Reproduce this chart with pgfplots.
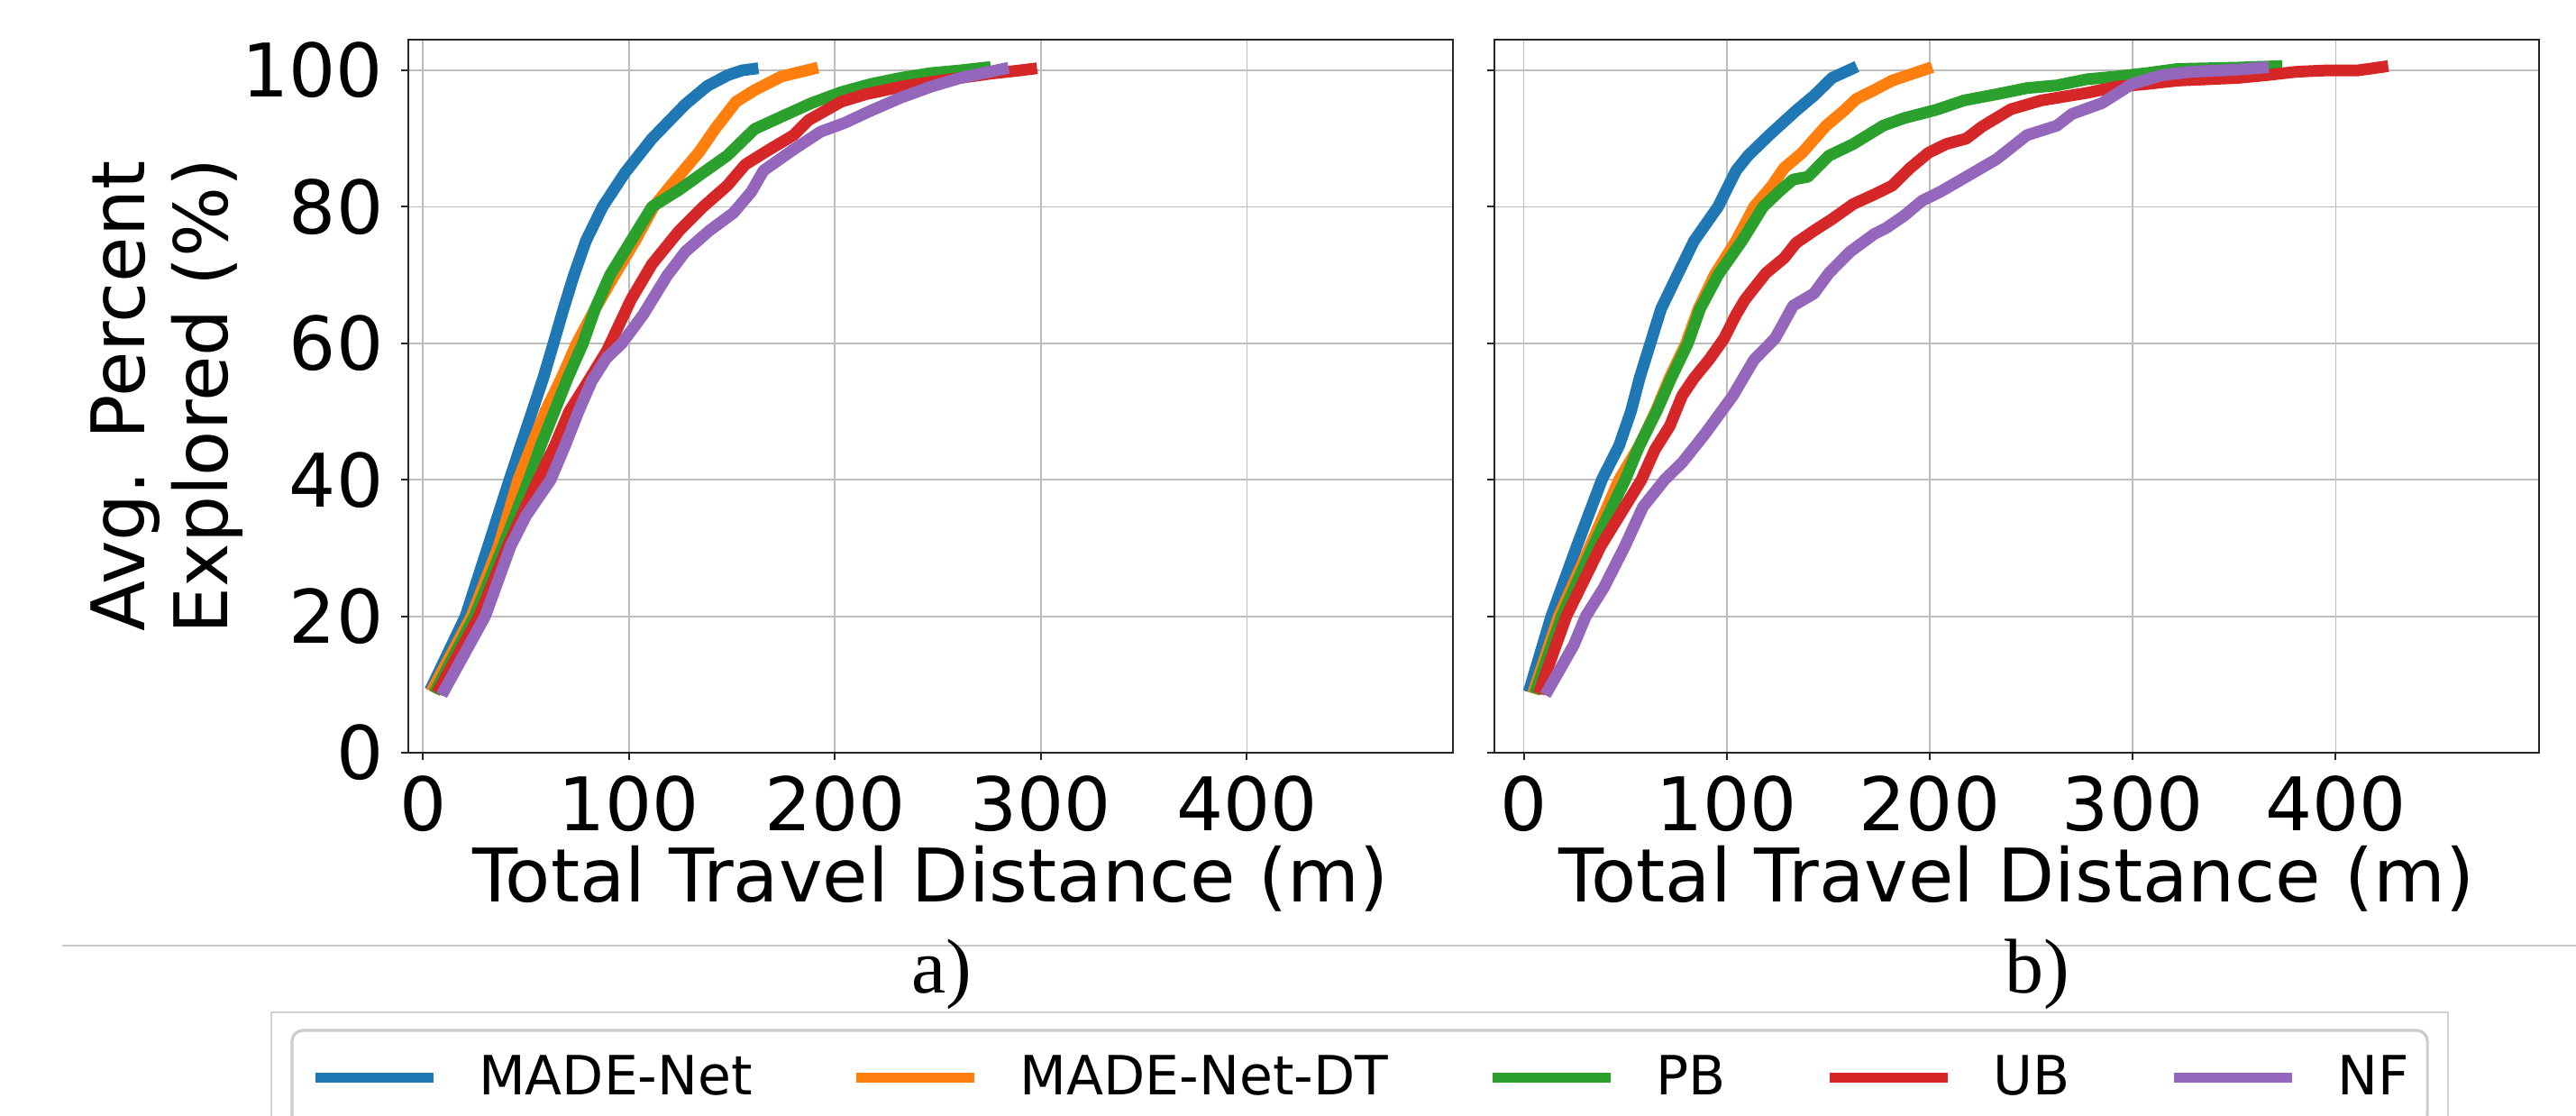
\documentclass[border=0pt]{standalone}
\usepackage{fontspec}
\setmainfont{DejaVu Sans}
\newfontfamily\capfont{Liberation Serif}
\usepackage{pgfplots}
\pgfplotsset{compat=1.18}

\definecolor{tabblue}{HTML}{1F77B4}
\definecolor{taborange}{HTML}{FF7F0E}
\definecolor{tabgreen}{HTML}{2CA02C}
\definecolor{tabred}{HTML}{D62728}
\definecolor{tabpurple}{HTML}{9467BD}

% shared look of both panels
\pgfplotsset{
  panel/.style={
    scale only axis, width=289.75pt, height=197.75pt,
    ymin=0, ymax=104.5, xmax=500,
    xtick={0,100,200,300,400}, ytick={0,20,40,60,80,100},
    grid=major, major grid style={line width=0.45pt, black!26},
    axis line style={line width=0.5pt, black!85},
    tick pos=left, tick align=outside, major tick length=2pt,
    tick style={line width=0.5pt, black!85},
    tick label style={font=\fontsize{20.5}{24}\selectfont, inner sep=0pt},
    xticklabel style={anchor=base, yshift=-19.75pt},
    yticklabel style={anchor=east, xshift=-4.75pt},
    /pgf/number format/assume math mode=true,
    every axis plot/.append style={line width=3.25pt, line join=round, line cap=rect},
    label style={font=\fontsize{20.5}{22.9}\selectfont, inner sep=0pt},
    xlabel={Total Travel Distance (m)},
    xlabel style={at={(axis description cs:0.5,-0.2093)}, anchor=base},
  }
}

\begin{document}
\begin{tikzpicture}

% ---- a) ----
\begin{axis}[panel,
  at={(113.25pt,-11pt)}, anchor=north west,
  xmin=-7.1,
  ylabel={Avg. Percent\\Explored (\%)},
  ylabel style={at={(axis description cs:-0.1576,0.5)}, anchor=south, align=center},
  legend columns=5, legend cell align=left,
  legend style={at={(axis description cs:-0.1113,-0.3894)}, anchor=north west,
    draw=black!20, line width=0.8pt, rounded corners=3pt, fill=white,
    inner xsep=5pt, inner ysep=7pt, outer sep=0pt,
    font=\fontsize{15}{18}\selectfont, nodes={inner sep=0pt},
    /tikz/every odd column/.append style={column sep=11.25pt},
    /tikz/every even column/.append style={column sep=27.5pt}},
  legend image code/.code={\draw[#1, line width=2.75pt, line cap=butt] (0pt,0pt) -- (32.75pt,0pt);},
]
\addplot[tabblue] coordinates {(4.7,9.9) (20.7,20) (31.7,30.3) (42,40) (47.5,45) (53,50) (58.5,55) (63.4,60) (68.2,65) (73.3,70) (79.1,75) (87.2,80) (98.1,85) (111.2,90) (127.3,95) (138,97.7) (148,99.3) (155,100) (160,100.2)};
\addplot[taborange] coordinates {(5.4,9.7) (23.6,20) (36.8,30.3) (46.3,40) (52.8,45) (59.4,50) (67.4,55) (74.7,60) (83.5,65) (93,70) (103,75) (112,80) (120,83) (127,85.5) (134,88) (142,91.5) (152,95.4) (161,97.1) (174,99.1) (189,100.2)};
\addplot[tabgreen] coordinates {(6.9,9.5) (25.1,20) (39,30.3) (51.4,40) (57.2,45) (63.8,50) (70.4,55) (77.7,60) (83.5,65) (90.8,70) (101,75) (111.2,80) (124.4,82.5) (136,85) (147.7,87.5) (161,91.4) (174,93.2) (188.6,95.2) (203,96.8) (217.5,98) (232,98.9) (246.6,99.6) (261,100) (272.8,100.4)};
\addplot[tabred] coordinates {(8.3,9.5) (27.3,20) (41.2,30.3) (56,40) (64,45) (71,50) (77.7,53.2) (89.3,58.9) (101,66.4) (111.2,71.6) (124.4,76.5) (136,80) (147.7,83.1) (156.5,86.2) (168.2,88.4) (179.9,90.5) (187.2,92.7) (203,95.4) (215,96.5) (232,97.6) (246.6,98.3) (261,98.9) (275,99.5) (290,100) (295.3,100.2)};
\addplot[tabpurple] coordinates {(10.5,9.2) (30.2,20) (42.6,30.3) (50,34.7) (62,40) (69,45) (75.5,50) (82,54.5) (89,57.8) (96.6,60) (106.9,64.2) (118.5,69.9) (127.3,73.4) (139,76.5) (150.7,79.1) (159.4,82.2) (165.3,85.3) (179.9,88.4) (193,91) (204.7,92.3) (217.5,94.1) (232,96) (246.6,97.6) (261,98.9) (281.5,100.2)};
\legend{MADE-Net, MADE-Net-DT, PB, UB, NF}
\end{axis}

% ---- b) ----
\begin{axis}[panel,
  at={(414.4pt,-11pt)}, anchor=north west,
  xmin=-14.6,
  yticklabels={},
]
\addplot[tabblue] coordinates {(3.3,9.7) (13.6,20) (26.2,30.3) (38.5,40) (47,45) (52.8,50) (57.2,55) (62.4,60) (67.6,65) (75.7,70) (83.9,75) (95.7,80) (104.6,85.3) (110.5,87.5) (120.9,90.5) (134.2,94.1) (143,96.3) (151.9,98.9) (161.5,100.2)};
\addplot[taborange] coordinates {(5.5,9.5) (17.3,20) (32.8,30.3) (47,40) (57,45) (65,50) (72,55) (80,60) (86,65) (94,70) (104.6,75) (113.5,80) (122.3,83.1) (128.3,85.7) (137.1,87.9) (149,91.9) (157.8,94.1) (163.8,95.8) (172.6,97.1) (181.5,98.5) (198.5,100.2)};
\addplot[tabgreen] coordinates {(6.5,9.5) (18.8,20) (34.3,30.3) (50,40) (57,45) (65.4,50) (72.8,55) (80.9,60) (86.8,65) (95.7,70) (107.5,75) (117.9,80) (126.8,82.5) (132.7,84) (140,84.4) (150.4,87.5) (162.3,89.2) (177.1,91.9) (187.4,93) (203,94.2) (217,95.6) (233,96.5) (247.9,97.4) (262.7,97.8) (277.5,98.7) (292.3,99.1) (307.1,99.6) (321.9,100.2) (336.7,100.3) (351.6,100.4) (370.8,100.6)};
\addplot[tabred] coordinates {(8.4,9.5) (21,20) (38,30.3) (58,40) (64.6,44.4) (72,47.9) (78,52.3) (83.9,54.9) (91.3,57.6) (98.7,60.7) (104.6,64.2) (109,66.4) (113.5,68.1) (119.4,70.3) (128.3,72.5) (134.2,74.7) (143,76.5) (151.9,78.2) (162.3,80.4) (172.6,81.8) (181.5,83.1) (190.4,85.7) (199.3,87.9) (208.1,89.2) (218,90) (226,91.8) (240,94.3) (255,95.6) (277.5,96.7) (292,97.6) (307,98) (322,98.5) (337,98.7) (352,98.9) (366,99.3) (381,99.8) (396,100) (411,100) (423,100.5)};
\addplot[tabpurple] coordinates {(12.1,9.2) (24.7,15.8) (30.6,20) (39.5,24.2) (49.9,30.3) (58.7,36) (69.4,40) (78,42.5) (89,46.6) (103,52.3) (113.5,57.6) (123.8,60.7) (132.7,65.5) (143,67.3) (150.4,70.3) (160.7,73.4) (172.6,76) (178.6,76.9) (187.4,78.7) (196.3,80.9) (205.2,82.2) (218,84.4) (233,87) (247.9,90.5) (262.7,91.9) (270,93.6) (284.9,95.2) (299.7,98) (314.5,99.3) (329.3,99.8) (351.6,100.1) (364.1,100.4)};
\end{axis}

% page furniture: rule, sub-captions, frame round the legend
\draw[black!22, line width=0.5pt] (17.25pt,-262.25pt) -- (714.5pt,-262.25pt);
\draw[black!18, line width=0.35pt] (75.25pt,-280.75pt) rectangle (679pt,-330pt);
\node[anchor=base, inner sep=0pt] at (261.25pt,-275.5pt) {\capfont\fontsize{21.5}{24}\selectfont a)};
\node[anchor=base, inner sep=0pt] at (565pt,-275.5pt) {\capfont\fontsize{21.5}{24}\selectfont b)};

\pgfresetboundingbox
\useasboundingbox (0pt,0pt) rectangle (714.5pt,-309.5pt);
\end{tikzpicture}
\end{document}
